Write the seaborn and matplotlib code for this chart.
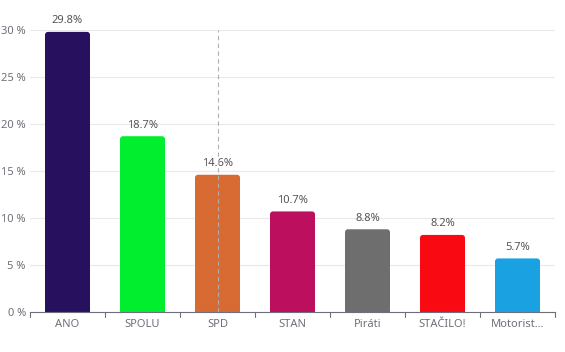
import matplotlib
matplotlib.use("Agg")
import matplotlib.pyplot as plt
from matplotlib.patches import FancyBboxPatch
import seaborn as sns
import pandas as pd

parties = ["ANO", "SPOLU", "SPD", "STAN", "Piráti", "STAČILO!", "Motorist..."]
values = [29.8, 18.7, 14.6, 10.7, 8.8, 8.2, 5.7]
colors = ["#27105e", "#00ee2e", "#d86a33", "#bc0f5d", "#6e6e6e", "#f90a12", "#1aa1e1"]
yticks = [0, 5, 10, 15, 20, 25, 30]

sns.set_theme(style="white")
plt.rcParams['font.family'] = ['Noto Sans', 'DejaVu Sans']

df = pd.DataFrame({"party": parties, "value": values})

fig = plt.figure(figsize=(5.65, 3.52), dpi=100)
ax = fig.add_axes([30/565, 40/352, 525/565, 282/352])

sns.barplot(data=df, x="party", y="value", hue="party", palette=colors,
            legend=False, width=0.6, ax=ax, saturation=1, zorder=3)

ax.set_ylim(0, 30)
ax.set_xlim(-0.5, len(parties) - 0.5)

# round the top corners of bars
xpp = 7 / 525
ypp = 30 / 282
for p in list(ax.patches):
    x, y, w, h = p.get_x(), p.get_y(), p.get_width(), p.get_height()
    fc = p.get_facecolor()
    p.set_visible(False)
    rp = FancyBboxPatch((x, y - 0.6), w, h + 0.6,
                        boxstyle=f"round,pad=0,rounding_size={3 * xpp}",
                        mutation_aspect=ypp / xpp, facecolor=fc, edgecolor="none",
                        zorder=3)
    ax.add_patch(rp)

ax.set_yticks(yticks)
ax.set_yticklabels([f"{t} %" for t in yticks], fontsize=8, color="#6e7079")
ax.yaxis.grid(True, color="#e9e9e9", linewidth=0.8, zorder=0)
ax.set_xlabel("")
ax.set_ylabel("")
ax.tick_params(axis="y", length=0, pad=3)
ax.set_xticks(range(len(parties)))
ax.set_xticklabels(parties, fontsize=8, color="#6e7079")
ax.tick_params(axis="x", length=0, pad=5)
for b in [i - 0.5 for i in range(len(parties) + 1)]:
    ax.plot([b, b], [0, -0.5], color="#6e7079", lw=0.8, clip_on=False, zorder=4)

for s in ["top", "right", "left"]:
    ax.spines[s].set_visible(False)
ax.spines["bottom"].set_color("#6e7079")
ax.spines["bottom"].set_linewidth(0.8)
ax.spines["bottom"].set_zorder(6)

for i, v in enumerate(values):
    ax.text(i, v + 0.6, f"{v}%", ha="center", va="bottom", fontsize=8, color="#555555")

ax.axvline(2, color="#b0b0b0", lw=0.8, ls=(0, (4, 3)), zorder=5)

fig.savefig("out.png", dpi=100)
